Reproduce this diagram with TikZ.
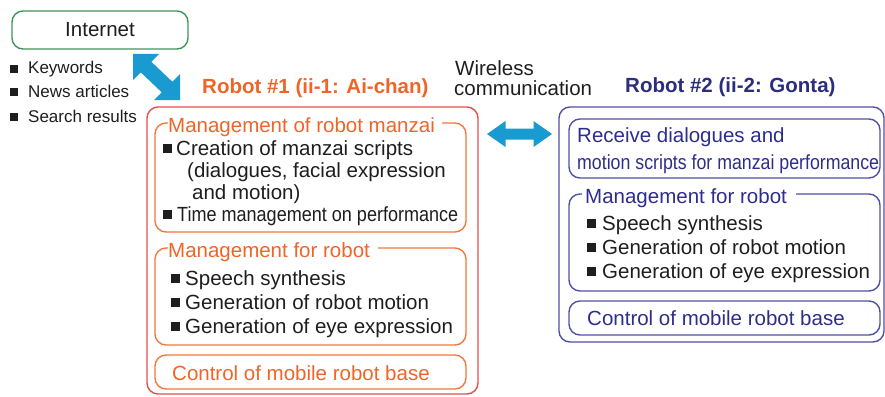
\documentclass[tikz,border=0pt]{standalone}
\usepackage{graphicx}
\usepackage{fontspec}
\setmainfont{Liberation Sans}
\usetikzlibrary{calc}

\definecolor{ink}{RGB}{30,30,30}
\definecolor{grn}{RGB}{60,150,90}
\definecolor{orgtext}{RGB}{240,100,40}
\definecolor{orgline}{RGB}{242,120,60}
\definecolor{redline}{RGB}{225,80,75}
\definecolor{navytext}{RGB}{45,45,140}
\definecolor{navyline}{RGB}{80,80,165}
\definecolor{navybold}{RGB}{45,45,125}
\definecolor{linkblue}{RGB}{25,155,210}

\newcommand\sqbullet[2]{\fill[ink] (#1,#2-2) rectangle ++(9,-9);}
\newcommand\smallbullet[2]{\fill[ink] (#1,#2-1) rectangle ++(8,-8);}

\begin{document}
\begin{tikzpicture}[x=1pt,y=-1pt,
  txt/.style={inner sep=0pt, anchor=base west, text=ink,
    font=\fontsize{20.5}{24}\selectfont},
  small/.style={txt, font=\fontsize{17}{20}\selectfont},
  head/.style={txt, font=\fontsize{20.5}{24}\selectfont\bfseries},
  frame/.style={inner sep=0pt, outer sep=0pt, anchor=north west},
  box/.style={frame, draw, line width=1.4pt, rounded corners=11pt},
  border/.style={line width=1.4pt, rounded corners=11pt},
  link/.style={fill=linkblue},
]
\useasboundingbox (0,0) rectangle (885,396);

% Internet source and the data it supplies
\node[box, draw=grn, anchor=center, minimum width=176pt, minimum height=38pt,
      text=ink, font=\fontsize{20.5}{24}\selectfont] (inet) at (100,30) {Internet};
\smallbullet{10}{74}
\node[small] (kw) at (28,74) {Keywords};
\smallbullet{10}{97}
\node[small] (na) at (28,97) {News articles};
\smallbullet{10}{122}
\node[small] (sr) at (28,122) {Search results};

% headings
\node[head, text=orgtext] (h1) at (202,93) {Robot \#1 (ii-1: Ai-chan)};
\node[head, text=navybold] (h2) at (625,92) {Robot \#2 (ii-2: Gonta)};
\node[txt] (wl1) at (455,75) {Wireless};
\node[txt] (wl2) at (454,95) {communication};

% ---------------- Robot #1 ----------------
\node[box, draw=redline, minimum width=331pt, minimum height=287pt] (r1) at (147,107) {};

% manzai management block
\node[frame, minimum width=311pt, minimum height=109pt] (m1) at (155,123) {};
\node[txt, text=orgtext] (t1) at (168,132) {Management of robot manzai};
\path (t1.east) ++(7,0) coordinate (t1e);
\draw[border, draw=orgline] (t1e |- m1.north) -- (m1.north east) -- (m1.south east)
  -- (m1.south west) -- (m1.north west) -- ++(13,0);
\sqbullet{163}{155}
\node[txt] (a1) at (176,155) {Creation of manzai scripts};
\node[txt] (a2) at (187,177) {(dialogues, facial expression};
\node[txt] (a3) at (192,199) {and motion)};
\sqbullet{163}{221}
\node[txt] (a4) at (177,221) {\scalebox{0.88}[1]{Time management on performance}};

% robot management block
\node[frame, minimum width=311pt, minimum height=97pt] (m2) at (155,248) {};
\node[txt, text=orgtext] (t2) at (168,257) {Management for robot};
\path (t2.east) ++(8,0) coordinate (t2e);
\draw[border, draw=orgline] (t2e |- m2.north) -- (m2.north east) -- (m2.south east)
  -- (m2.south west) -- (m2.north west) -- ++(13,0);
\sqbullet{171}{285}
\node[txt] (b1) at (185,285) {Speech synthesis};
\sqbullet{171}{309}
\node[txt] (b2) at (185,309) {Generation of robot motion};
\sqbullet{171}{333}
\node[txt] (b3) at (185,333) {Generation of eye expression};

% mobile base block
\node[box, draw=orgline, minimum width=311pt, minimum height=34pt] (c1) at (155,355) {};
\node[txt, text=orgtext] (c1t) at (172,380) {Control of mobile robot base};

% ---------------- Robot #2 ----------------
\node[box, draw=navyline, minimum width=325pt, minimum height=235pt] (r2) at (559,107) {};

\node[box, draw=navyline, minimum width=311pt, minimum height=59pt] (ra) at (569,119) {};
\node[txt, text=navytext] (ra1) at (577,142) {Receive dialogues and};
\node[txt, text=navytext] (ra2) at (577,169) {\scalebox{0.866}[1]{motion scripts for manzai performance}};

\node[frame, minimum width=311pt, minimum height=97pt] (rb) at (569,194) {};
\node[txt, text=navytext] (t3) at (585,203) {Management for robot};
\path (t3.east) ++(9,0) coordinate (t3e);
\draw[border, draw=navyline] (t3e |- rb.north) -- (rb.north east) -- (rb.south east)
  -- (rb.south west) -- (rb.north west) -- ++(13,0);
\sqbullet{587}{230}
\node[txt] (d1) at (602,230) {Speech synthesis};
\sqbullet{587}{254}
\node[txt] (d2) at (602,254) {Generation of robot motion};
\sqbullet{587}{278}
\node[txt] (d3) at (602,278) {Generation of eye expression};

\node[box, draw=navyline, minimum width=311pt, minimum height=34pt] (rc) at (569,301) {};
\node[txt, text=navytext] (rct) at (587,325) {Control of mobile robot base};

% ---------------- links (block double arrows) ----------------
% Internet <-> Robot #1
\coordinate (inetEnd) at (133,54);
\coordinate (r1End) at (180,100);
\fill[link] (inetEnd) -- ($(inetEnd)+(26,0)$) -- ($(inetEnd)+(18.3,7.7)$)
  -- ($(r1End)+(-7.7,-18.3)$) -- ($(r1End)+(0,-26)$) -- (r1End)
  -- ($(r1End)+(-26,0)$) -- ($(r1End)+(-18.3,-7.7)$)
  -- ($(inetEnd)+(7.7,18.3)$) -- ($(inetEnd)+(0,26)$) -- cycle;
% wireless link Robot #1 <-> Robot #2
\coordinate (wlA) at (487,134);
\coordinate (wlB) at (552,134);
\fill[link] (wlA) -- ($(wlA)+(18.5,-13)$) -- ($(wlA)+(18.5,-5.5)$)
  -- ($(wlB)+(-18.5,-5.5)$) -- ($(wlB)+(-18.5,-13)$) -- (wlB)
  -- ($(wlB)+(-18.5,13)$) -- ($(wlB)+(-18.5,5.5)$)
  -- ($(wlA)+(18.5,5.5)$) -- ($(wlA)+(18.5,13)$) -- cycle;
\end{tikzpicture}
\end{document}
